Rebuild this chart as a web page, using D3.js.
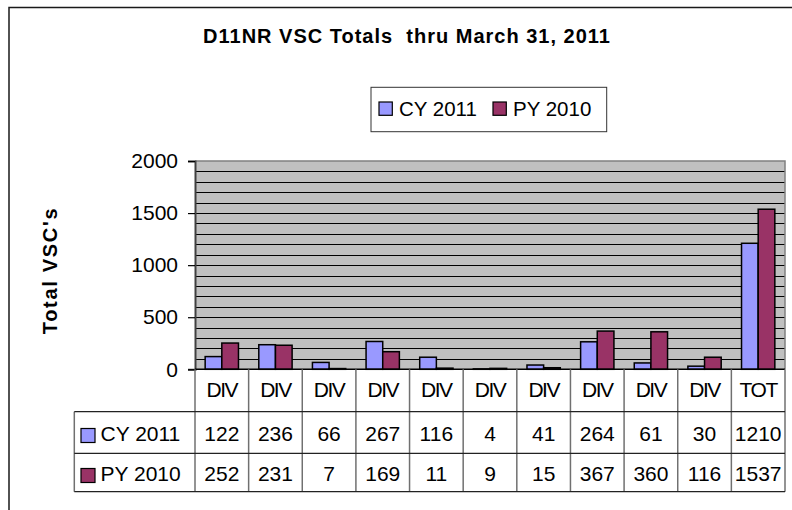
<!DOCTYPE html>
<html>
<head>
<meta charset="utf-8">
<script src="https://cdn.jsdelivr.net/npm/d3@7"></script>
<style>
  body { margin: 0; background: #fff; }
  text { font-family: Arial, "Liberation Sans", sans-serif; }
</style>
</head>
<body>
<svg id="chart" width="792" height="510"></svg>
<script>
// ---- data ----
const categories = ["DIV","DIV","DIV","DIV","DIV","DIV","DIV","DIV","DIV","DIV","TOT"];
const seriesNames = ["CY 2011", "PY 2010"];
const cy2011 = [122, 236, 66, 267, 116, 4, 41, 264, 61, 30, 1210];
const py2010 = [252, 231, 7, 169, 11, 9, 15, 367, 360, 116, 1537];
const yTickValues = [0, 500, 1000, 1500, 2000];
const titleText = "D11NR VSC Totals  thru March 31, 2011";
const yLabel = "Total VSC's";

const colors = ["#9999FF", "#993366"];
const seriesValues = [cy2011, py2010];

const svg = d3.select("#chart");

// plot geometry
const pLeft = 195, pRight = 785, pTop = 161, zeroY = 369.3;
const tableRows = [369.3, 411.7, 453.3, 491.7];
const tableLeft = 74.3;

const x = d3.scaleBand().domain(d3.range(categories.length)).range([pLeft, pRight]).padding(0);
const xs = d3.scaleBand().domain([0, 1]).range([0, x.bandwidth()]).paddingInner(0).paddingOuter(0.61);
const y = d3.scaleLinear().domain([0, 2000]).range([zeroY, pTop]);

// outer chart border (cut at right/bottom)
svg.append("path").attr("d", "M9,510 V7.5 H792").attr("fill", "none")
  .attr("stroke", "#1a1a1a").attr("stroke-width", 1.5);

// title
svg.append("text").attr("x", 407).attr("y", 43).attr("text-anchor", "middle")
  .style("white-space", "pre").style("letter-spacing", "1px")
  .attr("font-size", 20).attr("font-weight", "bold").text(titleText);

// legend
const lg = svg.append("g");
lg.append("rect").attr("x", 371).attr("y", 87.3).attr("width", 235.7).attr("height", 44.4)
  .attr("fill", "#fff").attr("stroke", "#333").attr("stroke-width", 1);
const legX = [379, 493];
seriesNames.forEach((n, i) => {
  lg.append("rect").attr("x", legX[i]).attr("y", 102).attr("width", 13.3).attr("height", 13.3)
    .attr("fill", colors[i]).attr("stroke", "#000").attr("stroke-width", 1.2);
  lg.append("text").attr("x", legX[i] + 20).attr("y", 115.5).attr("font-size", 20.5).text(n);
});

// plot background
svg.append("rect").attr("x", pLeft).attr("y", pTop).attr("width", pRight - pLeft).attr("height", zeroY - pTop)
  .attr("fill", "#C0C0C0");

// gridlines every 100
svg.append("g").selectAll("line").data(y.ticks(20).filter(d => d > 0 && d < 2000)).join("line")
  .attr("x1", pLeft).attr("x2", pRight).attr("y1", d => Math.round(y(d)) + 0.5).attr("y2", d => Math.round(y(d)) + 0.5)
  .attr("stroke", "#000").attr("stroke-width", 1);

// plot border top & right
svg.append("path").attr("d", `M${pLeft},${pTop} H${pRight} V${zeroY}`).attr("fill", "none")
  .attr("stroke", "#808080").attr("stroke-width", 1.5);

// bars
const bars = svg.append("g");
seriesValues.forEach((vals, s) => {
  bars.selectAll(null).data(vals).join("rect")
    .attr("x", (d, i) => x(i) + xs(s))
    .attr("width", xs.bandwidth())
    .attr("y", d => y(d))
    .attr("height", d => zeroY - y(d))
    .attr("fill", colors[s]).attr("stroke", "#000").attr("stroke-width", 1.5);
});

// y axis
const yAxis = svg.append("g").attr("transform", `translate(${pLeft},0)`)
  .call(d3.axisLeft(y).tickValues(yTickValues).tickFormat(d3.format("d")).tickSize(7).tickPadding(10));
yAxis.select(".domain").attr("stroke", "#404040").attr("stroke-width", 2);
yAxis.selectAll(".tick line").attr("stroke", "#000").attr("stroke-width", 1.2);
yAxis.selectAll(".tick text").attr("font-size", 21).attr("fill", "#000")
  .attr("font-family", "Arial, 'Liberation Sans', sans-serif");

// zero line
svg.append("line").attr("x1", pLeft).attr("x2", pRight).attr("y1", zeroY).attr("y2", zeroY)
  .attr("stroke", "#000").attr("stroke-width", 1.5);

// y label
svg.append("text").attr("transform", "translate(57,270.5) rotate(-90)").attr("text-anchor", "middle")
  .attr("font-size", 20).attr("font-weight", "bold").style("letter-spacing", "1.7px").text(yLabel);

// data table
const tbl = svg.append("g");
// vertical separators
const vx = d3.range(categories.length + 1).map(i => i < categories.length ? x(i) : pRight);
tbl.selectAll("line.v").data(vx).join("line").attr("class", "v")
  .attr("x1", d => d).attr("x2", d => d).attr("y1", tableRows[0]).attr("y2", tableRows[3])
  .attr("stroke", "#707070").attr("stroke-width", 1.5);
tbl.append("line").attr("x1", tableLeft).attr("x2", tableLeft).attr("y1", tableRows[1]).attr("y2", tableRows[3])
  .attr("stroke", "#707070").attr("stroke-width", 1.5);
// horizontal lines
tableRows.slice(1).forEach(ry => {
  tbl.append("line").attr("x1", tableLeft).attr("x2", pRight).attr("y1", ry).attr("y2", ry)
    .attr("stroke", "#222").attr("stroke-width", 1.2);
});
// category labels
tbl.selectAll("text.cat").data(categories).join("text").attr("class", "cat")
  .attr("x", (d, i) => x(i) + x.bandwidth() / 2).attr("y", 396.5)
  .attr("text-anchor", "middle").attr("font-size", 21).style("letter-spacing", "-1.5px").text(d => d);
// values
const rowBase = [440.5, 480.5];
seriesValues.forEach((vals, s) => {
  tbl.selectAll(null).data(vals).join("text")
    .attr("x", (d, i) => x(i) + x.bandwidth() / 2).attr("y", rowBase[s])
    .attr("text-anchor", "middle").attr("font-size", 21).text(d => d);
  tbl.append("rect").attr("x", 81).attr("y", rowBase[s] - 12).attr("width", 14).attr("height", 14)
    .attr("fill", colors[s]).attr("stroke", "#000").attr("stroke-width", 1.2);
  tbl.append("text").attr("x", 100.5).attr("y", rowBase[s]).attr("font-size", 21).text(seriesNames[s]);
});
</script>
</body>
</html>
